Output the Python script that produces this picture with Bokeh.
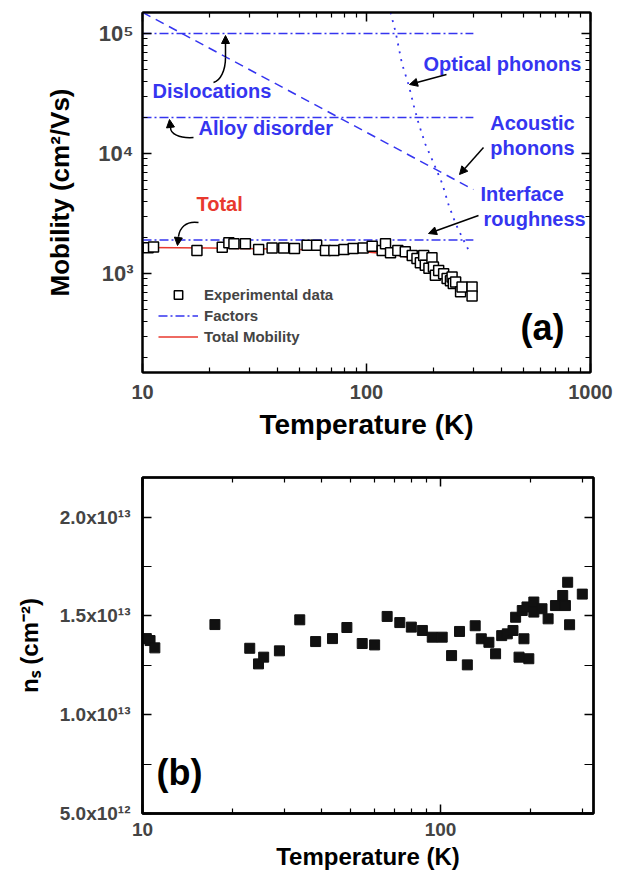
from bokeh.plotting import figure
from bokeh.layouts import column
from bokeh.models import (FixedTicker, LogAxis, LinearAxis, Label, Arrow, NormalHead,
                          Legend, LegendItem)
from bokeh.embed import file_html
from bokeh.resources import INLINE

FONT = "Liberation Sans"
BLUE = "#3535f0"
RED = "#e8392e"

# ---------------- Panel (a): mobility ----------------
T_exp = [10.6, 11.2, 17.5, 22.7, 24.3, 25.6, 28.8, 33.0, 37.9, 42.7,
         47.7, 54.3, 59.9, 65.6, 71.5, 79.3, 87.2, 96.6, 106, 117.5,
         121.6, 128, 138, 149, 160, 168, 174, 180, 183, 190,
         196, 199, 203, 210, 221, 229, 237, 241, 244, 250, 263, 267, 296, 296]
mu_exp = [1640, 1660, 1555, 1656, 1800, 1770, 1770, 1585, 1630, 1630,
          1615, 1718, 1718, 1555, 1555, 1585, 1615, 1630, 1690, 1555,
          1770, 1490, 1555, 1520, 1415, 1335, 1230, 1415, 1170, 1105,
          1350, 1135, 965, 1060, 995, 910, 870, 935, 825, 850, 705, 770, 770, 650]

T_total = [10, 20, 40, 60, 80, 100, 120, 140, 160, 180, 200, 225, 250, 275, 300]
mu_total = [1650, 1630, 1600, 1570, 1540, 1510, 1470, 1410, 1340, 1250, 1150, 1020, 900, 790, 700]

T_factor = [10, 300]
mu_dislocations = [1e5, 1e5]
mu_alloy = [2e4, 2e4]
mu_interface = [1900, 1900]

T_acoustic = [10, 300]
mu_acoustic = [1.5e5, 5000]

T_optical = [128, 135, 144, 154.5, 162.6, 171, 183, 200, 218, 233, 250, 267, 291]
mu_optical = [1.5e5, 1.02e5, 5.6e4, 3.69e4, 2.5e4, 1.77e4, 1.2e4, 8200, 5590, 3690, 2600, 2010, 1460]

x1_major = [10, 100, 1000]
x1_labels = {10: "10", 100: "100", 1000: "1000"}
y1_major = [1e3, 1e4, 1e5]
y1_labels = {1e3: "10³", 1e4: "10⁴", 1e5: "10⁵"}

# ---------------- Panel (b): sheet density ----------------
T_ns = [10.3, 10.6, 11.0, 17.5, 22.9, 24.5, 25.5, 28.8, 33.7, 38.1,
        43.4, 48.5, 54.6, 60.1, 66.2, 73.0, 79.8, 86.9, 93.8, 101.3,
        108.9, 115.8, 123, 130.7, 137, 145.3, 153, 160.4, 167.5, 175,
        178.6, 183.4, 188, 190.5, 195, 197.8, 205.6, 205.6, 219, 229.6,
        243, 257, 262.4, 267, 271, 299]
n_s = [1.385e13, 1.375e13, 1.338e13, 1.456e13, 1.336e13, 1.257e13, 1.291e13, 1.323e13, 1.48e13, 1.37e13,
       1.385e13, 1.441e13, 1.36e13, 1.353e13, 1.497e13, 1.466e13, 1.443e13, 1.426e13, 1.392e13, 1.392e13,
       1.299e13, 1.421e13, 1.252e13, 1.45e13, 1.384e13, 1.366e13, 1.308e13, 1.40e13, 1.409e13, 1.426e13,
       1.493e13, 1.291e13, 1.527e13, 1.384e13, 1.545e13, 1.283e13, 1.57e13, 1.519e13, 1.536e13, 1.485e13,
       1.552e13, 1.603e13, 1.552e13, 1.67e13, 1.455e13, 1.61e13]

x2_major = [10, 100]
x2_labels = {10: "10", 100: "100"}
y2_major = [5e12, 1e13, 1.5e13, 2e13]
y2_labels = {5e12: "5.0x10¹²", 1e13: "1.0x10¹³", 1.5e13: "1.5x10¹³", 2e13: "2.0x10¹³"}


def log_minors(majors, extra_top):
    out = []
    for m in majors:
        for k in range(2, 10):
            v = m * k
            if v <= extra_top:
                out.append(v)
    return out


def style_axis(ax, size, standoff):
    ax.axis_line_width = 2
    ax.axis_line_color = "black"
    ax.major_tick_in = 9
    ax.major_tick_out = 0
    ax.minor_tick_in = 5
    ax.minor_tick_out = 0
    ax.major_tick_line_width = 1.5
    ax.minor_tick_line_width = 1.2
    ax.major_label_text_font = FONT
    ax.major_label_text_font_style = "bold"
    ax.major_label_text_font_size = size
    ax.major_label_standoff = standoff
    ax.axis_label_text_font = FONT
    ax.axis_label_text_font_style = "bold"
    ax.axis_label_text_color = "black"


def mirror_axis(kind, ticker):
    ax = kind(ticker=ticker)
    style_axis(ax, "0px", 0)
    ax.major_label_text_alpha = 0
    return ax


# ===== figure (a) =====
p1 = figure(frame_width=448, frame_height=360, x_axis_type="log", y_axis_type="log",
            x_range=(10, 1000), y_range=(10 ** 2.175, 10 ** 5.175),
            min_border_left=142, min_border_right=30, min_border_top=12, min_border_bottom=80,
            output_backend="svg", toolbar_location=None)
p1.xgrid.visible = False
p1.ygrid.visible = False
p1.outline_line_color = "black"
p1.outline_line_width = 2
p1.background_fill_color = "white"
p1.border_fill_color = "white"

xt1 = FixedTicker(ticks=x1_major, minor_ticks=log_minors(x1_major, 1000))
yt1 = FixedTicker(ticks=y1_major, minor_ticks=log_minors([100] + y1_major, 1.5e5))
p1.xaxis.ticker = xt1
p1.yaxis.ticker = yt1
p1.xaxis.major_label_overrides = x1_labels
p1.yaxis.major_label_overrides = y1_labels
for ax in p1.xaxis:
    style_axis(ax, "20px", 12)
    ax.axis_label = "Temperature (K)"
    ax.axis_label_text_font_size = "28px"
    ax.axis_label_standoff = 7
for ax in p1.yaxis:
    style_axis(ax, "22px", 9)
    ax.axis_label = "Mobility (cm²/Vs)"
    ax.axis_label_text_font_size = "26px"
    ax.axis_label_standoff = 20
p1.add_layout(mirror_axis(LogAxis, xt1), "above")
p1.add_layout(mirror_axis(LogAxis, yt1), "right")

dash_dot = "9 3 2 3"
r_fac = p1.line(T_factor, mu_dislocations, line_color=BLUE, line_width=1.5, line_dash=dash_dot)
p1.line(T_factor, mu_alloy, line_color=BLUE, line_width=1.5, line_dash=dash_dot)
p1.line(T_factor, mu_interface, line_color=BLUE, line_width=1.5, line_dash=dash_dot)
p1.line(T_acoustic, mu_acoustic, line_color=BLUE, line_width=1.5, line_dash="9 6")
p1.line(T_optical, mu_optical, line_color=BLUE, line_width=1.8, line_dash="2 6")
r_tot = p1.line(T_total, mu_total, line_color=RED, line_width=1.5)
r_exp = p1.scatter(T_exp, mu_exp, marker="square", size=10, line_color="black",
                   line_width=1.5, fill_color="white")

legend = Legend(items=[LegendItem(label="Experimental data", renderers=[r_exp]),
                       LegendItem(label="Factors", renderers=[r_fac]),
                       LegendItem(label="Total Mobility", renderers=[r_tot])],
                location=(16, 25), padding=0, margin=0, spacing=0,
                border_line_alpha=0, background_fill_alpha=0,
                glyph_width=40, glyph_height=21, label_height=21, label_standoff=6,
                label_text_font=FONT, label_text_font_style="bold",
                label_text_font_size="15px", label_text_baseline="middle")
p1.add_layout(legend)


def t1(px):
    return 10 ** (1 + (px - 142) / 224)


def m1(py):
    return 10 ** (5 - (py - 33) / 120)


def lab(p, x, y, text, color, size="20px", align="left", style="bold"):
    p.add_layout(Label(x=x, y=y, text=text, text_color=color, text_font=FONT,
                       text_font_style=style, text_font_size=size,
                       text_align=align, text_baseline="middle"))


lab(p1, t1(152), m1(90), "Dislocations", BLUE)
lab(p1, t1(198), m1(127), "Alloy disorder", BLUE)
lab(p1, t1(423), m1(63), "Optical phonons", BLUE)
lab(p1, t1(532), m1(122), "Acoustic", BLUE, align="center")
lab(p1, t1(532), m1(147), "phonons", BLUE, align="center")
lab(p1, t1(480), m1(193), "Interface", BLUE)
lab(p1, t1(483), m1(218), "roughness", BLUE)
lab(p1, t1(196), m1(203), "Total", RED)
lab(p1, t1(520), m1(327), "(a)", "black", size="36px")

# curved arrow bodies
cur = [((213, 82), (220, 80), (225, 70), (225, 57)),
       ((193, 137), (178, 138), (170, 133), (170, 127)),
       ((198, 222), (185, 220), (179, 228), (178, 236))]
p1.bezier(x0=[t1(c[0][0]) for c in cur], y0=[m1(c[0][1]) for c in cur],
          cx0=[t1(c[1][0]) for c in cur], cy0=[m1(c[1][1]) for c in cur],
          cx1=[t1(c[2][0]) for c in cur], cy1=[m1(c[2][1]) for c in cur],
          x1=[t1(c[3][0]) for c in cur], y1=[m1(c[3][1]) for c in cur],
          line_color="black", line_width=1.5)

arrows = [((225, 57), (225, 35)), ((170, 127), (169, 119)), ((178, 236), (177, 245)),
          ((446, 74), (409, 84)), ((483, 147), (459, 174)), ((478, 215), (428, 233))]
for (sx, sy), (ex, ey) in arrows:
    p1.add_layout(Arrow(end=NormalHead(size=8, fill_color="black", line_color="black", line_width=1),
                        x_start=t1(sx), y_start=m1(sy), x_end=t1(ex), y_end=m1(ey),
                        line_color="black", line_width=1.5))

# ===== figure (b) =====
p2 = figure(frame_width=451, frame_height=336, x_axis_type="log",
            x_range=(10, 326), y_range=(5e12, 2.2e13),
            min_border_left=142, min_border_right=27, min_border_top=25, min_border_bottom=64,
            output_backend="svg", toolbar_location=None)
p2.xgrid.visible = False
p2.ygrid.visible = False
p2.outline_line_color = "black"
p2.outline_line_width = 2.5
p2.background_fill_color = "white"
p2.border_fill_color = "white"

xt2 = FixedTicker(ticks=x2_major, minor_ticks=log_minors(x2_major, 326))
yt2 = FixedTicker(ticks=y2_major, minor_ticks=[7.5e12, 1.25e13, 1.75e13])
p2.xaxis.ticker = xt2
p2.yaxis.ticker = yt2
p2.xaxis.major_label_overrides = x2_labels
p2.yaxis.major_label_overrides = y2_labels
for ax in p2.xaxis:
    style_axis(ax, "19px", 9)
    ax.axis_line_width = 2.5
    ax.axis_label = "Temperature (K)"
    ax.axis_label_text_font_size = "24px"
    ax.axis_label_standoff = 4
for ax in p2.yaxis:
    style_axis(ax, "19px", 12)
    ax.axis_line_width = 2.5
    ax.axis_label = "nₛ (cm⁻²)"
    ax.axis_label_text_font_size = "24px"
    ax.axis_label_standoff = 14
    ax.minor_tick_in = 9
p2.add_layout(mirror_axis(LogAxis, xt2), "above")
ra = mirror_axis(LinearAxis, yt2)
ra.minor_tick_in = 9
p2.add_layout(ra, "right")

p2.scatter(T_ns, n_s, marker="square", size=10, line_color="#111111",
           fill_color="#111111", line_width=1)


def t2(px):
    return 10 ** (1 + (px - 142) / 298)


def n2(py):
    return 5e12 + (813 - py) / 336 * 1.7e13


lab(p2, t2(156), n2(772), "(b)", "black", size="36px")

layout = column(p1, p2, spacing=0)
open("out.html", "w").write(file_html(layout, INLINE))
